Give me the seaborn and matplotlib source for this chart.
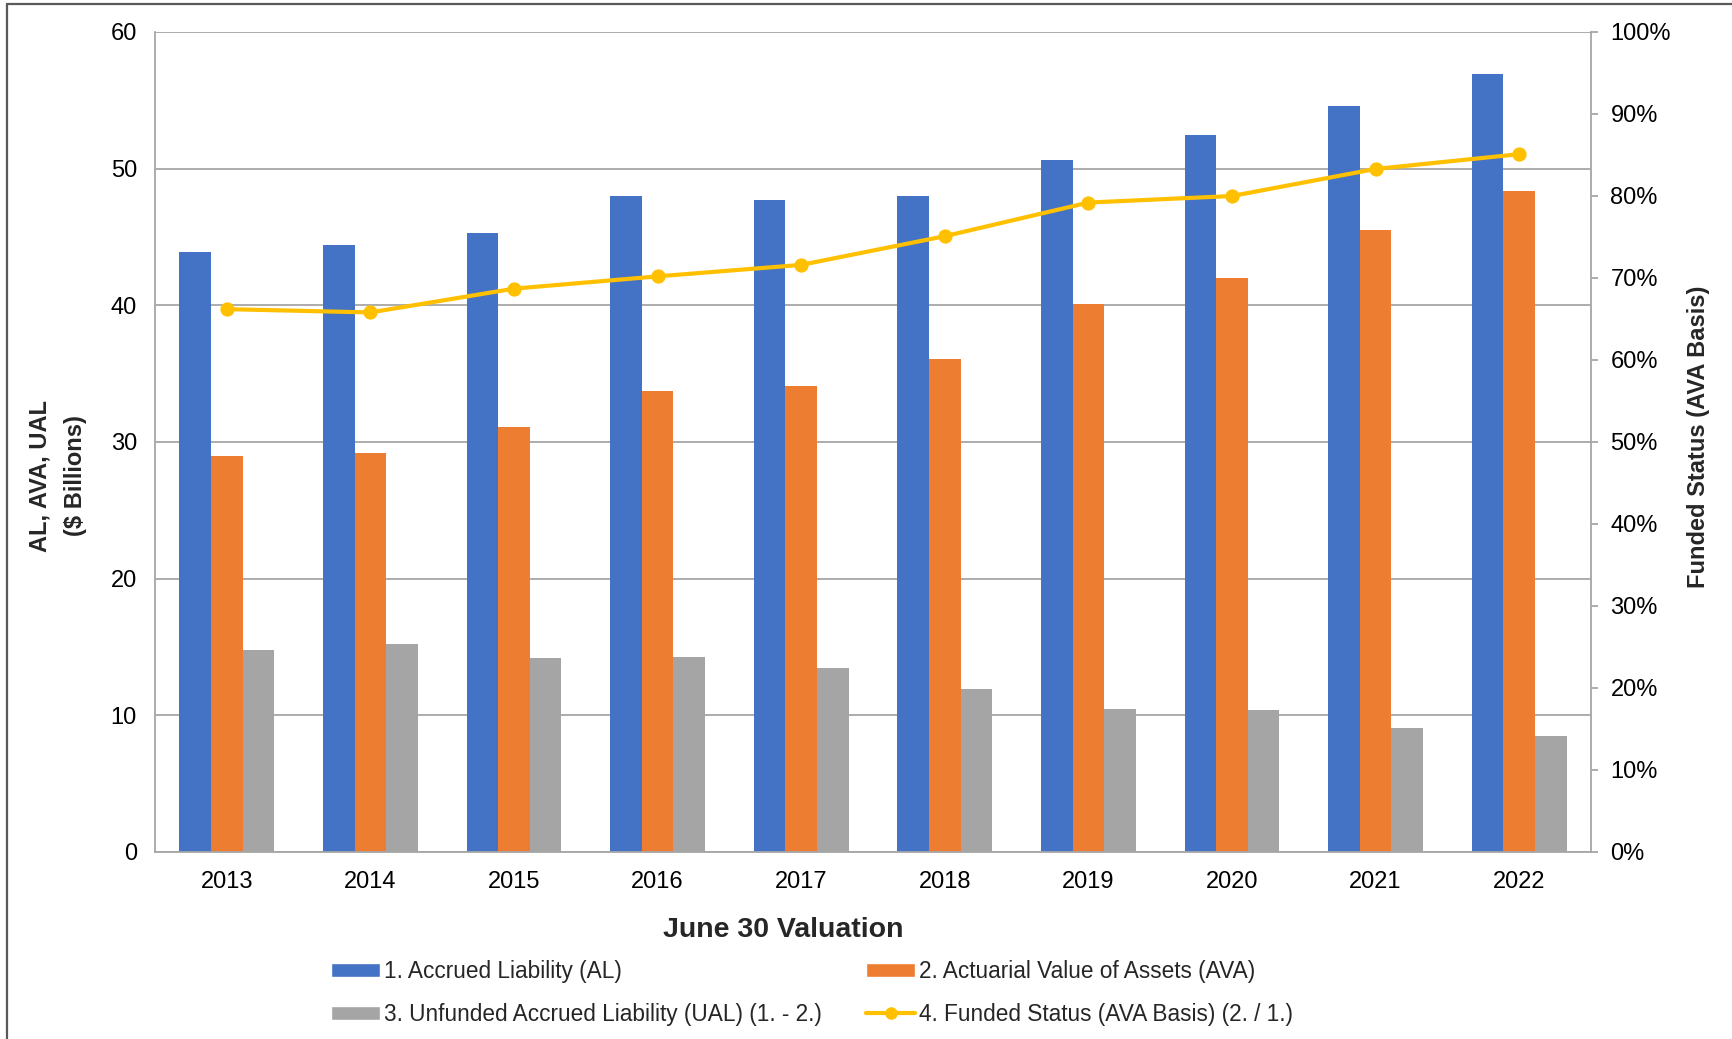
import matplotlib
matplotlib.use("Agg")
import matplotlib.pyplot as plt
import numpy as np
import pandas as pd
import seaborn as sns
from matplotlib.patches import Patch
from matplotlib.lines import Line2D
from matplotlib.ticker import FuncFormatter, FixedLocator, MultipleLocator

# Valuation years and amounts ($ billions)
years = ["2013", "2014", "2015", "2016", "2017", "2018", "2019", "2020", "2021", "2022"]
accrued_liability = [43.9, 44.4, 45.3, 48.0, 47.7, 48.0, 50.6, 52.5, 54.6, 56.9]
actuarial_assets = [29.0, 29.2, 31.1, 33.7, 34.1, 36.1, 40.1, 42.0, 45.5, 48.4]
unfunded_liability = [14.8, 15.2, 14.2, 14.3, 13.5, 11.9, 10.5, 10.4, 9.1, 8.5]
funded_status = [0.662, 0.658, 0.687, 0.702, 0.716, 0.751, 0.792, 0.800, 0.833, 0.851]

series_names = [
    "1. Accrued Liability (AL)",
    "2. Actuarial Value of Assets (AVA)",
    "3. Unfunded Accrued Liability (UAL) (1. - 2.)",
]
line_name = "4. Funded Status (AVA Basis) (2. / 1.)"
bar_colors = ["#4472C4", "#ED7D31", "#A5A5A5"]
line_color = "#FFC000"
axis_gray = "#A6A6A6"

sns.set_theme(style="white")
plt.rcParams["font.family"] = ["Liberation Sans", "DejaVu Sans"]

bars = pd.DataFrame({
    "Year": years * 3,
    "Value": accrued_liability + actuarial_assets + unfunded_liability,
    "Series": [series_names[0]] * len(years) + [series_names[1]] * len(years)
              + [series_names[2]] * len(years),
})
funded = pd.DataFrame({"Year": years, "Funded": funded_status})

W, H = 1732, 1039
fig = plt.figure(figsize=(W / 100, H / 100), dpi=100)
x0, x1, y_top, y_bot = 155, 1591, 32, 852
ax = fig.add_axes([x0 / W, 1 - y_bot / H, (x1 - x0) / W, (y_bot - y_top) / H])

sns.barplot(data=bars, x="Year", y="Value", hue="Series", palette=bar_colors,
            width=0.66, gap=0, saturation=1, errorbar=None, legend=False,
            linewidth=0, ax=ax)

ax2 = ax.twinx()
sns.pointplot(data=funded, x="Year", y="Funded", color=line_color, errorbar=None,
              markers="o", linestyles="-", markersize=8, linewidth=3, ax=ax2)

# Left axis: $ billions
ax.set_ylim(0, 60)
ax.yaxis.set_major_locator(MultipleLocator(10))
ax.set_axisbelow(True)
ax.grid(axis="y", color=axis_gray, linewidth=1.3)
ax.grid(axis="x", visible=False)
ax.tick_params(axis="y", length=0, pad=13, labelsize=17, labelcolor="black")
ax.set_xlim(-0.5, len(years) - 0.5)
ax.tick_params(axis="x", which="major", length=0, pad=14, labelsize=17, labelcolor="black")
ax.xaxis.set_minor_locator(FixedLocator(np.arange(-0.5, len(years), 1.0)))
ax.tick_params(axis="x", which="minor", length=5, width=1.3, color=axis_gray, direction="out")
ax.set_xlabel("")
ax.set_ylabel("")
for side in ["left", "bottom"]:
    ax.spines[side].set_color(axis_gray)
    ax.spines[side].set_linewidth(1.3)
for side in ["top", "right"]:
    ax.spines[side].set_visible(False)

# Right axis: funded percentage
ax2.set_ylim(0, 1)
ax2.set_xlim(-0.5, len(years) - 0.5)
ax2.yaxis.set_major_locator(MultipleLocator(0.1))
ax2.yaxis.set_major_formatter(FuncFormatter(lambda v, _: f"{v * 100:.0f}%"))
ax2.tick_params(axis="y", length=5, width=1.3, color=axis_gray, direction="out",
                pad=9, labelsize=17, labelcolor="black")
ax2.set_xlabel("")
ax2.set_ylabel("")
for side in ["left", "bottom", "top"]:
    ax2.spines[side].set_visible(False)
ax2.spines["right"].set_color(axis_gray)
ax2.spines["right"].set_linewidth(1.3)

# Axis titles
fig.text(58 / W, 1 - 476 / H, "AL, AVA, UAL\n($ Billions)", rotation=90, ha="center",
         va="center", fontsize=17, fontweight="bold", multialignment="center",
         linespacing=1.7)
fig.text(1698 / W, 1 - 437 / H, "Funded Status (AVA Basis)", rotation=90, ha="center",
         va="center", fontsize=17, fontweight="bold")
fig.text(783 / W, 1 - 930 / H, "June 30 Valuation", ha="center", va="center",
         fontsize=20.5, fontweight="bold")

# Legend, filled column by column: AL / UAL on the left, AVA / funded status on the right
handles = [
    Patch(facecolor=bar_colors[0], label=series_names[0]),
    Patch(facecolor=bar_colors[2], label=series_names[2]),
    Patch(facecolor=bar_colors[1], label=series_names[1]),
    Line2D([], [], color=line_color, linewidth=3, marker="o", markersize=8, label=line_name),
]
fig.legend(handles=handles, ncol=2, loc="upper left", bbox_to_anchor=(331 / W, 1 - 960 / H),
           frameon=False, fontsize=16.3, handlelength=2.15, handleheight=0.55,
           handletextpad=0.2, columnspacing=1.95, labelspacing=0.87,
           borderpad=0, borderaxespad=0)

# Outer frame
fx, fy = 7 / W, 1 - 4 / H
fig.add_artist(Line2D([fx, fx], [0, fy], color="#595959", linewidth=1.6, transform=fig.transFigure))
fig.add_artist(Line2D([fx, 1], [fy, fy], color="#595959", linewidth=1.6, transform=fig.transFigure))

fig.savefig("out.png", dpi=100)
